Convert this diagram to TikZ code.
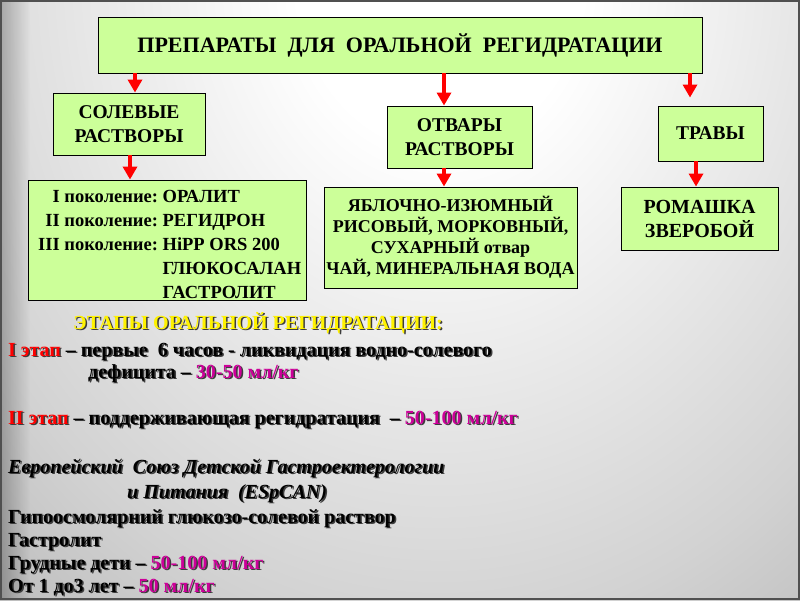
\documentclass[tikz,border=0pt]{standalone}
\usepackage{fontspec}
\setmainfont{Liberation Serif}
\usetikzlibrary{arrows.meta,calc,fadings}
\definecolor{boxg}{RGB}{204,255,153}
\definecolor{mag}{RGB}{204,0,153}
\definecolor{shc}{RGB}{60,60,60}
\definecolor{bgmid}{RGB}{210,210,210}
\definecolor{bgout}{RGB}{168,168,168}
\definecolor{bgedge}{RGB}{140,140,140}
\definecolor{frame}{RGB}{80,80,80}
\definecolor{arrred}{RGB}{255,0,0}
\pgfdeclareradialshading{bgshade}{\pgfpoint{0bp}{0bp}}{color(0bp)=(white); color(4bp)=(white); color(15bp)=(bgmid); color(23bp)=(bgout); color(32bp)=(bgedge); color(50bp)=(bgedge)}
\newif\ifshd
\newcommand\cc[2]{\ifshd#2\else\textcolor{#1}{#2}\fi}
\newcommand\shtxt[1]{\leavevmode\rlap{\kern1.5pt\raisebox{-1.5pt}{\shdtrue\color{shc}#1}}#1}
\tikzset{
  gbox/.style={draw=black, line width=0.9pt, fill=boxg, inner sep=0pt, align=center,
    font=\bfseries\fontsize{19.5}{23.5}\selectfont},
  ebox/.style={draw=black, line width=0.9pt, fill=boxg, inner sep=0pt},
  ln/.style={anchor=base west, inner sep=0pt, font=\bfseries\fontsize{20}{23}\selectfont},
  arr/.style={draw=arrred, line width=4pt, -{Triangle[width=14pt,length=13pt]}},
}
\begin{document}
\begin{tikzpicture}[x=1pt,y=-1pt]
\useasboundingbox (0,0) rectangle (800,600);
\begin{scope}
\clip (0,0) rectangle (800,600);
\fill[bgedge] (0,0) rectangle (800,600);
\shade[shading=bgshade] (440,-30) ellipse (900 and 1100);
\fill[black, opacity=0.25, path fading=east] (0,0) rectangle (30,600);
\end{scope}
\draw[frame, line width=2pt] (1,1) rectangle (799,599);

% boxes
\node[gbox, minimum width=604pt, minimum height=56pt, font=\bfseries\fontsize{22}{25}\selectfont] (top) at (400,45)
  {ПРЕПАРАТЫ\ \ ДЛЯ\ \ ОРАЛЬНОЙ\ \ РЕГИДРАТАЦИИ};
\node[gbox, minimum width=152pt, minimum height=62pt] (sol) at (129,124) {СОЛЕВЫЕ\\РАСТВОРЫ};
\node[gbox, minimum width=145pt, minimum height=62pt] (otv) at (459.5,137) {ОТВАРЫ\\РАСТВОРЫ};
\node[gbox, minimum width=105pt, minimum height=55pt] (trav) at (710.5,133.5) {ТРАВЫ};
\node[ebox, minimum width=278pt, minimum height=120pt] (gen) at (167,240) {};
\node[anchor=base west, inner sep=0pt, font=\bfseries\fontsize{18.5}{24}\selectfont] (gent) at (38,202)
  {\setlength\tabcolsep{0pt}\begin{tabular}[t]{r@{\ }l}
   I поколение: & ОРАЛИТ\\
   II поколение: & РЕГИДРОН\\
   III поколение: & HiPP ORS 200\\
   & ГЛЮКОСАЛАН\\
   & ГАСТРОЛИТ
  \end{tabular}};
\node[gbox, minimum width=253pt, minimum height=101pt, font=\bfseries\fontsize{18}{21}\selectfont] (mid) at (450.5,237.5)
  {ЯБЛОЧНО-ИЗЮМНЫЙ\\РИСОВЫЙ, МОРКОВНЫЙ,\\СУХАРНЫЙ отвар\\ЧАЙ, МИНЕРАЛЬНАЯ ВОДА};
\node[gbox, minimum width=157pt, minimum height=63pt, font=\bfseries\fontsize{20}{24}\selectfont] (rom) at (699.5,218.5)
  {РОМАШКА\\ЗВЕРОБОЙ};

% arrows
\draw[arr] ($(top.south -| sol.north)+(6,0)$) -- ($(sol.north)+(6,0)$);
\draw[arr] ($(sol.south)+(1,0)$) -- ($(gen.north -| sol.south)+(1,0)$);
\draw[arr] ($(top.south -| otv.north)+(-15.5,0)$) -- ($(otv.north)+(-15.5,0)$);
\draw[arr, shorten >=8pt] ($(top.south -| trav.north)+(-20.5,0)$) -- ($(trav.north)+(-20.5,0)$);
\draw[arr] ($(otv.south)+(-15.5,0)$) -- ($(mid.north -| otv.south)+(-15.5,0)$);
\draw[arr] ($(trav.south)+(-14.5,0)$) -- ($(rom.north -| trav.south)+(-14.5,0)$);

% lower text
\node[ln] (l1) at (73,329) {\shtxt{\cc{yellow}{ЭТАПЫ ОРАЛЬНОЙ РЕГИДРАТАЦИИ:}}};
\node[ln] (l2) at (8,356) {\shtxt{\cc{arrred}{I этап} – первые\ \ 6 часов - ликвидация водно-солевого}};
\node[ln] (l3) at (88,378) {\shtxt{дефицита – \cc{mag}{30-50 мл/кг}}};
\node[ln] (l4) at (8,424) {\shtxt{\cc{arrred}{II этап} – поддерживающая регидратация\ \ – \cc{mag}{50-100 мл/кг}}};
\node[ln] (l5) at (8,473) {\shtxt{\itshape Европейский\ \ Союз Детской Гастроектерологии}};
\node[ln] (l6) at (127,498) {\shtxt{\itshape и Питания\ \ (ESpCAN)}};
\node[ln] (l7) at (8,523) {\shtxt{Гипоосмолярний глюкозо-солевой раствор}};
\node[ln] (l8) at (8,546) {\shtxt{Гастролит}};
\node[ln] (l9) at (8,569) {\shtxt{Грудные дети – \cc{mag}{50-100 мл/кг}}};
\node[ln] (l10) at (8,592) {\shtxt{От 1 до3 лет – \cc{mag}{50 мл/кг}}};
\end{tikzpicture}
\end{document}
